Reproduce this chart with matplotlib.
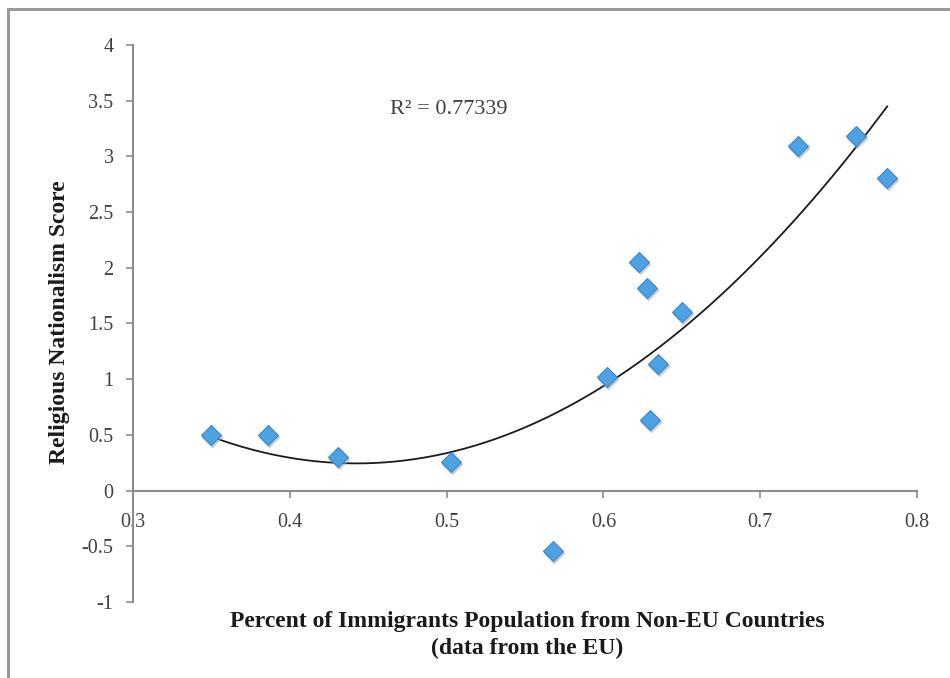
import numpy as np
import matplotlib
matplotlib.use("Agg")
import matplotlib.pyplot as plt
from matplotlib.patches import Rectangle
from matplotlib.transforms import ScaledTranslation

# Data
pct_non_eu = [0.350, 0.386, 0.431, 0.503, 0.568, 0.602, 0.623, 0.628, 0.630,
              0.635, 0.650, 0.724, 0.761, 0.781]
rel_nat_score = [0.50, 0.50, 0.30, 0.26, -0.54, 1.02, 2.05, 1.82, 0.63,
                 1.14, 1.60, 3.09, 3.18, 2.81]
x_ticks = [0.3, 0.4, 0.5, 0.6, 0.7, 0.8]
y_ticks = [-1, -0.5, 0, 0.5, 1, 1.5, 2, 2.5, 3, 3.5, 4]
r2_label = "R² = 0.77339"

fig = plt.figure(figsize=(9.5, 6.78), dpi=100)
ax = fig.add_axes([133/950, 1-602/678, (917-133)/950, (602-45)/678])

serif = ["Liberation Serif", "DejaVu Serif"]

# Polynomial (order 2) trendline fitted to the data
coef = np.polyfit(pct_non_eu, rel_nat_score, 2)
xs = np.linspace(min(pct_non_eu), max(pct_non_eu), 200)
ax.plot(xs, np.polyval(coef, xs), color="#1a1a1a", lw=1.3, zorder=2)

# subtle shadow then markers
ax.plot(pct_non_eu, rel_nat_score, linestyle="none", marker="D", ms=10,
        color="#9aa7b3", alpha=0.45, zorder=2.5,
        transform=ax.transData + ScaledTranslation(1/100, -2/100, fig.dpi_scale_trans))
ax.plot(pct_non_eu, rel_nat_score, linestyle="none", marker="D", ms=10,
        markerfacecolor="#4da2e4", markeredgecolor="#3b86c8", markeredgewidth=0.8,
        zorder=3)

for s in ["top", "right"]:
    ax.spines[s].set_visible(False)
ax.spines["bottom"].set_position(("data", 0))
for s in ["left", "bottom"]:
    ax.spines[s].set_color("#8c8c8c")
    ax.spines[s].set_linewidth(1.5)

ax.set_xlim(0.3, 0.8)
ax.set_ylim(-1, 4)
ax.set_xticks(x_ticks)
ax.set_yticks(y_ticks)
ax.set_xticklabels([f"{v:g}" for v in x_ticks], fontfamily=serif, fontsize=14.5, color="#404040")
ax.set_yticklabels([f"{v:g}" for v in y_ticks], fontfamily=serif, fontsize=14.5, color="#404040")
ax.tick_params(axis="both", direction="out", length=5, width=1.2, color="#8c8c8c")
ax.tick_params(axis="x", pad=11)
ax.tick_params(axis="y", pad=9)
ax.patch.set_alpha(0)

ax.text(0.464, 3.42, r2_label, fontfamily=serif, fontsize=16, color="#404040",
        ha="left", va="center")

fig.text(60/950, 1-322/678, "Religious Nationalism Score", rotation=90,
         fontfamily=serif, fontweight="bold", fontsize=17, ha="center", va="center",
         color="#1a1a1a")
fig.text(527/950, 1-635/678, "Percent of Immigrants Population from Non-EU Countries\n(data from the EU)",
         fontfamily=serif, fontweight="bold", fontsize=17, ha="center", va="center",
         linespacing=1.4, color="#1a1a1a")

# outer chart border (cropped on right/bottom)
fig.patches.append(Rectangle((8/950, -0.05), 1.2, 1.05 - 9/678, transform=fig.transFigure,
                             fill=False, edgecolor="#9a9a9a", linewidth=2.2))

fig.savefig("out.png", dpi=100)
